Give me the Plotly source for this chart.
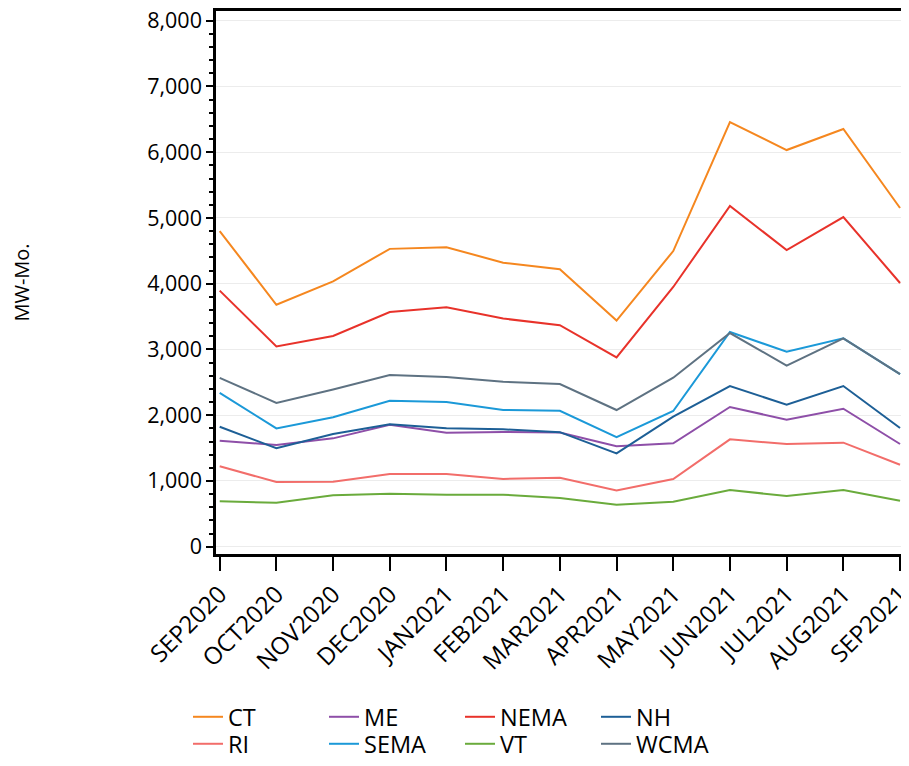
import plotly.graph_objects as go

months = ["SEP2020", "OCT2020", "NOV2020", "DEC2020", "JAN2021", "FEB2021", "MAR2021",
          "APR2021", "MAY2021", "JUN2021", "JUL2021", "AUG2021", "SEP2021"]

CT = [4801, 3680, 4035, 4530, 4555, 4320, 4220, 3440, 4497, 6459, 6033, 6353, 5151]
ME = [1612, 1547, 1648, 1855, 1734, 1745, 1738, 1527, 1573, 2125, 1932, 2099, 1562]
NEMA = [3895, 3045, 3205, 3570, 3643, 3470, 3370, 2878, 3950, 5182, 4513, 5014, 4011]
NH = [1825, 1497, 1714, 1862, 1800, 1785, 1742, 1420, 1977, 2444, 2160, 2444, 1805]
RI = [1223, 984, 989, 1106, 1106, 1030, 1050, 857, 1030, 1633, 1562, 1582, 1247]
SEMA = [2340, 1800, 1970, 2221, 2201, 2079, 2066, 1665, 2064, 3266, 2966, 3170, 2624]
VT = [690, 669, 782, 806, 791, 791, 741, 639, 684, 862, 771, 862, 700]
WCMA = [2568, 2188, 2390, 2611, 2581, 2510, 2474, 2079, 2570, 3250, 2755, 3170, 2624]

series = [
    ("CT", CT, "#f5871f", "legend"),
    ("ME", ME, "#8e4fa8", "legend"),
    ("NEMA", NEMA, "#e8322a", "legend"),
    ("NH", NH, "#1d5f96", "legend"),
    ("RI", RI, "#f26d6a", "legend2"),
    ("SEMA", SEMA, "#1b99d8", "legend2"),
    ("VT", VT, "#6aab3c", "legend2"),
    ("WCMA", WCMA, "#5e7282", "legend2"),
]

FONT = "Open Sans"

fig = go.Figure()
for name, vals, color, lg in series:
    fig.add_trace(go.Scatter(x=months, y=vals, name=name, mode="lines", legend=lg,
                             line=dict(color=color, width=2)))

legend_common = dict(orientation="h", x=-0.0407, xanchor="left", yanchor="top",
                     entrywidth=91, entrywidthmode="pixels", tracegroupgap=0,
                     font=dict(family=FONT, size=23.5, color="black"), itemwidth=30,
                     bgcolor="rgba(0,0,0,0)")

# page body adds an 8px offset, so the figure is sized to fill the rest of the window
fig.update_layout(
    width=901, height=758,
    margin=dict(l=208, r=5, t=3, b=212, autoexpand=False),
    paper_bgcolor="white", plot_bgcolor="white",
    font=dict(family=FONT, size=21, color="black"),
    showlegend=True,
    legend=dict(y=-0.2597, **legend_common),
    legend2=dict(y=-0.3094, **legend_common),
)

fig.update_xaxes(
    type="category", range=[-0.065, 12.07], automargin=False,
    ticklabeloverflow="allow",
    showline=True, linecolor="black", linewidth=2.5, mirror=True,
    ticks="outside", ticklen=14, tickwidth=2, tickcolor="black",
    tickangle=-45, showgrid=False, zeroline=False,
    tickfont=dict(family=FONT, size=24),
)
fig.update_yaxes(
    range=[-111, 8148], automargin=False,
    ticklabeloverflow="allow",
    tickvals=[0, 1000, 2000, 3000, 4000, 5000, 6000, 7000, 8000],
    tickformat=",d",
    showline=True, linecolor="black", linewidth=2.5, mirror=True,
    ticks="outside", ticklen=7, tickwidth=2, tickcolor="black",
    showgrid=True, gridcolor="#ececec", gridwidth=1, zeroline=False,
    minor=dict(dtick=200, tick0=0, ticks="outside", ticklen=4, tickwidth=1.5,
               tickcolor="black", showgrid=False),
    tickfont=dict(family=FONT, size=21.5),
    title=dict(text="MW-Mo.", font=dict(family=FONT, size=20), standoff=116),
)

fig.write_html("out.html")
